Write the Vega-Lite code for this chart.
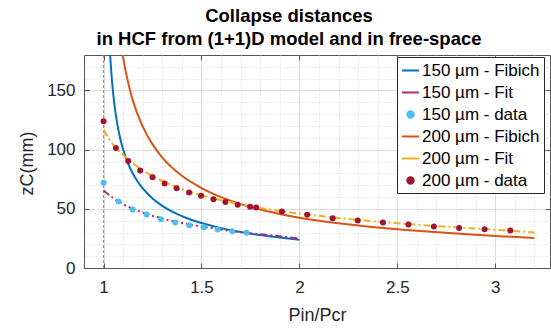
{
  "$schema": "https://vega.github.io/schema/vega-lite/v6.json",
  "width": 466,
  "height": 213,
  "autosize": {"type": "none"},
  "padding": {"left": 84, "top": 55, "right": 1, "bottom": 61},
  "background": "white",
  "title": {
    "text": ["Collapse distances", "in HCF from (1+1)D model and in free-space"],
    "font": "Liberation Sans",
    "fontSize": 18.5,
    "fontWeight": "bold",
    "color": "black",
    "anchor": "middle",
    "dx": -28,
    "offset": 4,
    "lineHeight": 23
  },
  "config": {
    "view": {"stroke": "#555555", "strokeWidth": 1},
    "axis": {
      "labelFont": "Liberation Sans",
      "titleFont": "Liberation Sans",
      "labelColor": "#262626",
      "titleColor": "#262626",
      "labelFontSize": 17,
      "titleFontSize": 18,
      "titleFontWeight": "normal",
      "domainColor": "#555555",
      "tickColor": "#555555"
    }
  },
  "datasets": {
    "curves": [
      {"s": "150 µm - Fibich", "x": 1.032, "z": 184.5},
      {"s": "150 µm - Fibich", "x": 1.035, "z": 176.1},
      {"s": "150 µm - Fibich", "x": 1.04, "z": 164.2},
      {"s": "150 µm - Fibich", "x": 1.05, "z": 145.9},
      {"s": "150 µm - Fibich", "x": 1.06, "z": 132.4},
      {"s": "150 µm - Fibich", "x": 1.07, "z": 121.8},
      {"s": "150 µm - Fibich", "x": 1.08, "z": 113.3},
      {"s": "150 µm - Fibich", "x": 1.09, "z": 106.1},
      {"s": "150 µm - Fibich", "x": 1.1, "z": 100.1},
      {"s": "150 µm - Fibich", "x": 1.13, "z": 86.4},
      {"s": "150 µm - Fibich", "x": 1.16, "z": 76.6},
      {"s": "150 µm - Fibich", "x": 1.2, "z": 67.2},
      {"s": "150 µm - Fibich", "x": 1.25, "z": 58.8},
      {"s": "150 µm - Fibich", "x": 1.3, "z": 52.5},
      {"s": "150 µm - Fibich", "x": 1.4, "z": 43.8},
      {"s": "150 µm - Fibich", "x": 1.45, "z": 40.6},
      {"s": "150 µm - Fibich", "x": 1.5, "z": 38.0},
      {"s": "150 µm - Fibich", "x": 1.6, "z": 33.7},
      {"s": "150 µm - Fibich", "x": 1.7, "z": 30.4},
      {"s": "150 µm - Fibich", "x": 1.8, "z": 27.8},
      {"s": "150 µm - Fibich", "x": 1.9, "z": 25.7},
      {"s": "150 µm - Fibich", "x": 2.0, "z": 23.9},
      {"s": "200 µm - Fibich", "x": 1.09, "z": 188.6},
      {"s": "200 µm - Fibich", "x": 1.1, "z": 178.0},
      {"s": "200 µm - Fibich", "x": 1.11, "z": 168.7},
      {"s": "200 µm - Fibich", "x": 1.12, "z": 160.7},
      {"s": "200 µm - Fibich", "x": 1.13, "z": 153.6},
      {"s": "200 µm - Fibich", "x": 1.14, "z": 147.1},
      {"s": "200 µm - Fibich", "x": 1.16, "z": 136.2},
      {"s": "200 µm - Fibich", "x": 1.18, "z": 127.2},
      {"s": "200 µm - Fibich", "x": 1.2, "z": 119.5},
      {"s": "200 µm - Fibich", "x": 1.25, "z": 104.5},
      {"s": "200 µm - Fibich", "x": 1.3, "z": 93.3},
      {"s": "200 µm - Fibich", "x": 1.4, "z": 77.9},
      {"s": "200 µm - Fibich", "x": 1.5, "z": 67.6},
      {"s": "200 µm - Fibich", "x": 1.6, "z": 59.9},
      {"s": "200 µm - Fibich", "x": 1.7, "z": 54.0},
      {"s": "200 µm - Fibich", "x": 1.8, "z": 49.4},
      {"s": "200 µm - Fibich", "x": 1.9, "z": 45.7},
      {"s": "200 µm - Fibich", "x": 2.0, "z": 42.5},
      {"s": "200 µm - Fibich", "x": 2.2, "z": 37.8},
      {"s": "200 µm - Fibich", "x": 2.4, "z": 34.2},
      {"s": "200 µm - Fibich", "x": 2.6, "z": 31.4},
      {"s": "200 µm - Fibich", "x": 2.8, "z": 29.1},
      {"s": "200 µm - Fibich", "x": 3.0, "z": 27.1},
      {"s": "200 µm - Fibich", "x": 3.2, "z": 25.4}
    ],
    "fits": [
      {"s": "150 µm - Fit", "x": 1.0, "z": 65.5},
      {"s": "150 µm - Fit", "x": 1.05, "z": 59.0},
      {"s": "150 µm - Fit", "x": 1.1, "z": 54.0},
      {"s": "150 µm - Fit", "x": 1.15, "z": 50.0},
      {"s": "150 µm - Fit", "x": 1.2, "z": 46.8},
      {"s": "150 µm - Fit", "x": 1.3, "z": 41.8},
      {"s": "150 µm - Fit", "x": 1.4, "z": 38.0},
      {"s": "150 µm - Fit", "x": 1.5, "z": 35.0},
      {"s": "150 µm - Fit", "x": 1.6, "z": 32.5},
      {"s": "150 µm - Fit", "x": 1.7, "z": 30.3},
      {"s": "150 µm - Fit", "x": 1.8, "z": 28.5},
      {"s": "150 µm - Fit", "x": 1.9, "z": 26.8},
      {"s": "150 µm - Fit", "x": 2.0, "z": 25.0},
      {"s": "200 µm - Fit", "x": 1.0, "z": 116.5},
      {"s": "200 µm - Fit", "x": 1.05, "z": 104.0},
      {"s": "200 µm - Fit", "x": 1.1, "z": 95.5},
      {"s": "200 µm - Fit", "x": 1.15, "z": 88.5},
      {"s": "200 µm - Fit", "x": 1.2, "z": 82.5},
      {"s": "200 µm - Fit", "x": 1.3, "z": 73.5},
      {"s": "200 µm - Fit", "x": 1.4, "z": 66.8},
      {"s": "200 µm - Fit", "x": 1.5, "z": 61.5},
      {"s": "200 µm - Fit", "x": 1.6, "z": 57.3},
      {"s": "200 µm - Fit", "x": 1.7, "z": 53.8},
      {"s": "200 µm - Fit", "x": 1.8, "z": 50.8},
      {"s": "200 µm - Fit", "x": 1.9, "z": 48.2},
      {"s": "200 µm - Fit", "x": 2.0, "z": 46.0},
      {"s": "200 µm - Fit", "x": 2.2, "z": 42.3},
      {"s": "200 µm - Fit", "x": 2.4, "z": 39.2},
      {"s": "200 µm - Fit", "x": 2.6, "z": 36.6},
      {"s": "200 µm - Fit", "x": 2.8, "z": 34.4},
      {"s": "200 µm - Fit", "x": 3.0, "z": 32.3},
      {"s": "200 µm - Fit", "x": 3.2, "z": 30.0}
    ],
    "points": [
      {"s": "150 µm - data", "x": 1.0, "z": 72.0},
      {"s": "150 µm - data", "x": 1.076, "z": 56.3},
      {"s": "150 µm - data", "x": 1.148, "z": 49.5},
      {"s": "150 µm - data", "x": 1.22, "z": 45.3},
      {"s": "150 µm - data", "x": 1.293, "z": 41.3},
      {"s": "150 µm - data", "x": 1.366, "z": 38.5},
      {"s": "150 µm - data", "x": 1.438, "z": 36.2},
      {"s": "150 µm - data", "x": 1.511, "z": 34.5},
      {"s": "150 µm - data", "x": 1.583, "z": 32.5},
      {"s": "150 µm - data", "x": 1.657, "z": 31.1},
      {"s": "150 µm - data", "x": 1.73, "z": 29.7},
      {"s": "200 µm - data", "x": 1.0, "z": 124.1},
      {"s": "200 µm - data", "x": 1.063, "z": 101.4},
      {"s": "200 µm - data", "x": 1.126, "z": 90.4},
      {"s": "200 µm - data", "x": 1.187, "z": 82.5},
      {"s": "200 µm - data", "x": 1.25, "z": 76.6},
      {"s": "200 µm - data", "x": 1.312, "z": 71.5},
      {"s": "200 µm - data", "x": 1.373, "z": 67.5},
      {"s": "200 µm - data", "x": 1.437, "z": 63.9},
      {"s": "200 µm - data", "x": 1.498, "z": 61.0},
      {"s": "200 µm - data", "x": 1.561, "z": 58.2},
      {"s": "200 µm - data", "x": 1.622, "z": 55.7},
      {"s": "200 µm - data", "x": 1.685, "z": 53.5},
      {"s": "200 µm - data", "x": 1.748, "z": 51.8},
      {"s": "200 µm - data", "x": 1.779, "z": 51.2},
      {"s": "200 µm - data", "x": 1.911, "z": 47.8},
      {"s": "200 µm - data", "x": 2.04, "z": 44.9},
      {"s": "200 µm - data", "x": 2.17, "z": 42.1},
      {"s": "200 µm - data", "x": 2.298, "z": 40.2},
      {"s": "200 µm - data", "x": 2.427, "z": 38.5},
      {"s": "200 µm - data", "x": 2.557, "z": 36.8},
      {"s": "200 µm - data", "x": 2.687, "z": 35.1},
      {"s": "200 µm - data", "x": 2.816, "z": 33.9},
      {"s": "200 µm - data", "x": 2.946, "z": 32.8},
      {"s": "200 µm - data", "x": 3.077, "z": 31.7}
    ],
    "limit": [
      {"x": 1, "z": 0},
      {"x": 1, "z": 180}
    ]
  },
  "resolve": {"axis": {"x": "independent", "y": "independent"}},
  "layer": [
    {
      "encoding": {
        "x": {"field": "x", "type": "quantitative",
          "scale": {"domain": [0.9, 3.28], "nice": false, "zero": false},
          "axis": {
            "orient": "bottom",
            "values": [0.9,1,1.1,1.2,1.3,1.4,1.5,1.6,1.7,1.8,1.9,2,2.1,2.2,2.3,2.4,2.5,2.6,2.7,2.8,2.9,3,3.1,3.2],
            "labelExpr": "abs(datum.value * 2 - round(datum.value * 2)) < 0.001 ? format(datum.value, '~g') : ''",
            "grid": true,
            "gridColor": {"condition": {"test": "abs(datum.value * 2 - round(datum.value * 2)) < 0.001", "value": "#dcdcdc"}, "value": "#d9d9d9"},
            "gridDash": {"condition": {"test": "abs(datum.value * 2 - round(datum.value * 2)) < 0.001", "value": []}, "value": [1, 2]},
            "tickSize": {"condition": {"test": "abs(datum.value * 2 - round(datum.value * 2)) < 0.001", "value": -5}, "value": 0},
            "labelPadding": 16,
            "domain": true,
            "title": "Pin/Pcr",
            "titleY": 52,
            "titleBaseline": "alphabetic"
          }},
        "y": {"field": "z", "type": "quantitative",
          "scale": {"domain": [0, 180], "nice": false},
          "axis": {
            "orient": "left",
            "values": [0,10,20,30,40,50,60,70,80,90,100,110,120,130,140,150,160,170],
            "labelExpr": "datum.value % 50 === 0 ? datum.label : ''",
            "grid": true,
            "gridColor": {"condition": {"test": "datum.value % 50 === 0", "value": "#dcdcdc"}, "value": "#d9d9d9"},
            "gridDash": {"condition": {"test": "datum.value % 50 === 0", "value": []}, "value": [1, 2]},
            "tickSize": {"condition": {"test": "datum.value % 50 === 0", "value": -5}, "value": 0},
            "labelPadding": 14,
            "domain": true,
            "title": "zC(mm)",
            "titleX": -57,
            "titleY": 108,
            "titleBaseline": "middle"
          }}
      },
      "layer": [
        {
          "data": {"name": "limit"},
          "mark": {"type": "line", "color": "#77AC30", "strokeDash": [3, 2], "strokeWidth": 1}
        },
        {
          "data": {"name": "curves"},
          "mark": {"type": "line", "strokeWidth": 2, "clip": true, "interpolate": "monotone"},
          "encoding": {
            "color": {
              "field": "s", "type": "nominal",
              "scale": {
                "domain": ["150 µm - Fibich", "150 µm - Fit", "150 µm - data", "200 µm - Fibich", "200 µm - Fit", "200 µm - data"],
                "range": ["#0072BD", "#A2307E", "#4DBEEE", "#D95319", "#EDB120", "#A2142F"]
              },
              "legend": {
                "title": null,
                "orient": "none",
                "legendX": 313,
                "legendY": 2,
                "padding": 4,
                "strokeColor": "#262626",
                "fillColor": "white",
                "cornerRadius": 0,
                "labelFont": "Liberation Sans",
                "labelFontSize": 17,
                "labelColor": "black",
                "labelOffset": 2,
                "rowPadding": 4,
                "symbolSize": 289,
                "symbolType": "stroke",
                "symbolStrokeWidth": 2,
                "encode": {
                  "symbols": {
                    "update": {
                      "shape": {"signal": "indexof(datum.value, 'data') >= 0 ? 'M0.38,0A0.38,0.38,0,1,1,-0.38,0A0.38,0.38,0,1,1,0.38,0Z' : 'stroke'"},
                      "fill": {"signal": "indexof(datum.value, '150 µm - data') >= 0 ? '#4DBEEE' : (indexof(datum.value, '200 µm - data') >= 0 ? '#A2142F' : 'transparent')"}
                    }
                  }
                }
              }
            }
          }
        },
        {
          "data": {"name": "fits"},
          "mark": {"type": "line", "strokeWidth": 2, "strokeDash": [7, 3, 2, 3], "interpolate": "monotone"},
          "encoding": {
            "color": {"field": "s", "type": "nominal"}
          }
        },
        {
          "data": {"name": "points"},
          "mark": {"type": "circle", "size": 36, "opacity": 1},
          "encoding": {
            "color": {"field": "s", "type": "nominal"}
          }
        }
      ]
    },
    {
      "data": {"name": "limit"},
      "mark": {"type": "point", "opacity": 0},
      "encoding": {
        "x": {"field": "x", "type": "quantitative",
          "axis": {"orient": "top", "values": [1, 1.5, 2, 2.5, 3], "grid": false, "labels": false, "tickSize": -5, "domain": false, "title": null}},
        "y": {"field": "z", "type": "quantitative",
          "axis": {"orient": "right", "values": [0, 50, 100, 150], "grid": false, "labels": false, "tickSize": -5, "domain": false, "title": null}}
      }
    }
  ]
}
